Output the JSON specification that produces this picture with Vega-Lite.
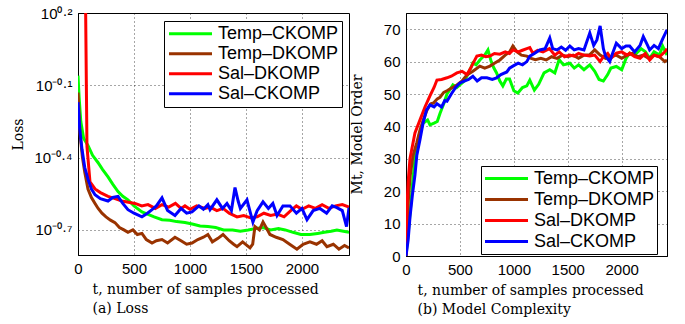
{
"$schema": "https://vega.github.io/schema/vega-lite/v6.json",
"autosize": {"type": "pad"},
"padding": {"left": 10, "top": 5, "right": 5, "bottom": 5},
"bounds": "flush",
"spacing": 57,
"datasets": {
"loss": [
{"t":0,"s":"Temp–CKOMP","v":0.871},{"t":10,"s":"Temp–CKOMP","v":0.708},{"t":25,"s":"Temp–CKOMP","v":0.562},{"t":50,"s":"Temp–CKOMP","v":0.479},{"t":89,"s":"Temp–CKOMP","v":0.447},{"t":130,"s":"Temp–CKOMP","v":0.407},{"t":178,"s":"Temp–CKOMP","v":0.380},{"t":220,"s":"Temp–CKOMP","v":0.355},{"t":268,"s":"Temp–CKOMP","v":0.331},{"t":310,"s":"Temp–CKOMP","v":0.309},{"t":357,"s":"Temp–CKOMP","v":0.288},{"t":400,"s":"Temp–CKOMP","v":0.275},{"t":446,"s":"Temp–CKOMP","v":0.266},{"t":500,"s":"Temp–CKOMP","v":0.251},{"t":571,"s":"Temp–CKOMP","v":0.237},{"t":620,"s":"Temp–CKOMP","v":0.232},{"t":680,"s":"Temp–CKOMP","v":0.226},{"t":750,"s":"Temp–CKOMP","v":0.220},{"t":820,"s":"Temp–CKOMP","v":0.219},{"t":880,"s":"Temp–CKOMP","v":0.216},{"t":955,"s":"Temp–CKOMP","v":0.214},{"t":1020,"s":"Temp–CKOMP","v":0.211},{"t":1090,"s":"Temp–CKOMP","v":0.207},{"t":1160,"s":"Temp–CKOMP","v":0.206},{"t":1230,"s":"Temp–CKOMP","v":0.204},{"t":1300,"s":"Temp–CKOMP","v":0.1995},{"t":1380,"s":"Temp–CKOMP","v":0.1995},{"t":1450,"s":"Temp–CKOMP","v":0.197},{"t":1520,"s":"Temp–CKOMP","v":0.1995},{"t":1580,"s":"Temp–CKOMP","v":0.202},{"t":1652,"s":"Temp–CKOMP","v":0.204},{"t":1720,"s":"Temp–CKOMP","v":0.1995},{"t":1790,"s":"Temp–CKOMP","v":0.202},{"t":1850,"s":"Temp–CKOMP","v":0.1995},{"t":1920,"s":"Temp–CKOMP","v":0.195},{"t":1990,"s":"Temp–CKOMP","v":0.191},{"t":2071,"s":"Temp–CKOMP","v":0.191},{"t":2140,"s":"Temp–CKOMP","v":0.193},{"t":2200,"s":"Temp–CKOMP","v":0.195},{"t":2260,"s":"Temp–CKOMP","v":0.197},{"t":2312,"s":"Temp–CKOMP","v":0.1995},{"t":2370,"s":"Temp–CKOMP","v":0.197},{"t":2420,"s":"Temp–CKOMP","v":0.195},
{"t":0,"s":"Temp–DKOMP","v":0.741},{"t":10,"s":"Temp–DKOMP","v":0.603},{"t":18,"s":"Temp–DKOMP","v":0.501},{"t":40,"s":"Temp–DKOMP","v":0.398},{"t":60,"s":"Temp–DKOMP","v":0.347},{"t":89,"s":"Temp–DKOMP","v":0.295},{"t":120,"s":"Temp–DKOMP","v":0.272},{"t":152,"s":"Temp–DKOMP","v":0.257},{"t":180,"s":"Temp–DKOMP","v":0.245},{"t":214,"s":"Temp–DKOMP","v":0.234},{"t":250,"s":"Temp–DKOMP","v":0.226},{"t":290,"s":"Temp–DKOMP","v":0.219},{"t":330,"s":"Temp–DKOMP","v":0.214},{"t":370,"s":"Temp–DKOMP","v":0.204},{"t":410,"s":"Temp–DKOMP","v":0.1995},{"t":446,"s":"Temp–DKOMP","v":0.195},{"t":490,"s":"Temp–DKOMP","v":0.1995},{"t":530,"s":"Temp–DKOMP","v":0.191},{"t":571,"s":"Temp–DKOMP","v":0.193},{"t":610,"s":"Temp–DKOMP","v":0.182},{"t":661,"s":"Temp–DKOMP","v":0.176},{"t":700,"s":"Temp–DKOMP","v":0.180},{"t":750,"s":"Temp–DKOMP","v":0.182},{"t":800,"s":"Temp–DKOMP","v":0.176},{"t":866,"s":"Temp–DKOMP","v":0.186},{"t":920,"s":"Temp–DKOMP","v":0.180},{"t":970,"s":"Temp–DKOMP","v":0.174},{"t":1018,"s":"Temp–DKOMP","v":0.176},{"t":1070,"s":"Temp–DKOMP","v":0.182},{"t":1120,"s":"Temp–DKOMP","v":0.186},{"t":1160,"s":"Temp–DKOMP","v":0.191},{"t":1200,"s":"Temp–DKOMP","v":0.178},{"t":1250,"s":"Temp–DKOMP","v":0.184},{"t":1295,"s":"Temp–DKOMP","v":0.191},{"t":1350,"s":"Temp–DKOMP","v":0.180},{"t":1390,"s":"Temp–DKOMP","v":0.174},{"t":1420,"s":"Temp–DKOMP","v":0.170},{"t":1470,"s":"Temp–DKOMP","v":0.178},{"t":1536,"s":"Temp–DKOMP","v":0.168},{"t":1560,"s":"Temp–DKOMP","v":0.174},{"t":1580,"s":"Temp–DKOMP","v":0.206},{"t":1620,"s":"Temp–DKOMP","v":0.1995},{"t":1652,"s":"Temp–DKOMP","v":0.215},{"t":1680,"s":"Temp–DKOMP","v":0.204},{"t":1714,"s":"Temp–DKOMP","v":0.191},{"t":1770,"s":"Temp–DKOMP","v":0.186},{"t":1830,"s":"Temp–DKOMP","v":0.182},{"t":1890,"s":"Temp–DKOMP","v":0.174},{"t":1955,"s":"Temp–DKOMP","v":0.166},{"t":2010,"s":"Temp–DKOMP","v":0.174},{"t":2071,"s":"Temp–DKOMP","v":0.178},{"t":2130,"s":"Temp–DKOMP","v":0.174},{"t":2180,"s":"Temp–DKOMP","v":0.180},{"t":2223,"s":"Temp–DKOMP","v":0.170},{"t":2280,"s":"Temp–DKOMP","v":0.174},{"t":2330,"s":"Temp–DKOMP","v":0.166},{"t":2380,"s":"Temp–DKOMP","v":0.172},{"t":2420,"s":"Temp–DKOMP","v":0.168},
{"t":60,"s":"Sal–DKOMP","v":3.98},{"t":80,"s":"Sal–DKOMP","v":0.443},{"t":107,"s":"Sal–DKOMP","v":0.316},{"t":152,"s":"Sal–DKOMP","v":0.295},{"t":200,"s":"Sal–DKOMP","v":0.285},{"t":268,"s":"Sal–DKOMP","v":0.275},{"t":330,"s":"Sal–DKOMP","v":0.269},{"t":393,"s":"Sal–DKOMP","v":0.263},{"t":450,"s":"Sal–DKOMP","v":0.260},{"t":509,"s":"Sal–DKOMP","v":0.257},{"t":570,"s":"Sal–DKOMP","v":0.251},{"t":625,"s":"Sal–DKOMP","v":0.254},{"t":690,"s":"Sal–DKOMP","v":0.245},{"t":750,"s":"Sal–DKOMP","v":0.254},{"t":810,"s":"Sal–DKOMP","v":0.248},{"t":870,"s":"Sal–DKOMP","v":0.257},{"t":920,"s":"Sal–DKOMP","v":0.245},{"t":955,"s":"Sal–DKOMP","v":0.251},{"t":1000,"s":"Sal–DKOMP","v":0.243},{"t":1060,"s":"Sal–DKOMP","v":0.251},{"t":1134,"s":"Sal–DKOMP","v":0.245},{"t":1180,"s":"Sal–DKOMP","v":0.248},{"t":1240,"s":"Sal–DKOMP","v":0.240},{"t":1295,"s":"Sal–DKOMP","v":0.245},{"t":1350,"s":"Sal–DKOMP","v":0.234},{"t":1420,"s":"Sal–DKOMP","v":0.226},{"t":1480,"s":"Sal–DKOMP","v":0.229},{"t":1540,"s":"Sal–DKOMP","v":0.224},{"t":1600,"s":"Sal–DKOMP","v":0.226},{"t":1660,"s":"Sal–DKOMP","v":0.234},{"t":1720,"s":"Sal–DKOMP","v":0.229},{"t":1780,"s":"Sal–DKOMP","v":0.232},{"t":1840,"s":"Sal–DKOMP","v":0.226},{"t":1900,"s":"Sal–DKOMP","v":0.240},{"t":1950,"s":"Sal–DKOMP","v":0.251},{"t":2000,"s":"Sal–DKOMP","v":0.243},{"t":2060,"s":"Sal–DKOMP","v":0.251},{"t":2120,"s":"Sal–DKOMP","v":0.245},{"t":2180,"s":"Sal–DKOMP","v":0.254},{"t":2240,"s":"Sal–DKOMP","v":0.245},{"t":2300,"s":"Sal–DKOMP","v":0.251},{"t":2360,"s":"Sal–DKOMP","v":0.254},{"t":2420,"s":"Sal–DKOMP","v":0.248},
{"t":0,"s":"Sal–CKOMP","v":0.676},{"t":15,"s":"Sal–CKOMP","v":0.525},{"t":36,"s":"Sal–CKOMP","v":0.430},{"t":60,"s":"Sal–CKOMP","v":0.363},{"t":89,"s":"Sal–CKOMP","v":0.324},{"t":120,"s":"Sal–CKOMP","v":0.295},{"t":152,"s":"Sal–CKOMP","v":0.279},{"t":200,"s":"Sal–CKOMP","v":0.269},{"t":268,"s":"Sal–CKOMP","v":0.263},{"t":310,"s":"Sal–CKOMP","v":0.272},{"t":357,"s":"Sal–CKOMP","v":0.275},{"t":400,"s":"Sal–CKOMP","v":0.257},{"t":446,"s":"Sal–CKOMP","v":0.242},{"t":500,"s":"Sal–CKOMP","v":0.234},{"t":571,"s":"Sal–CKOMP","v":0.226},{"t":620,"s":"Sal–CKOMP","v":0.234},{"t":661,"s":"Sal–CKOMP","v":0.242},{"t":700,"s":"Sal–CKOMP","v":0.251},{"t":750,"s":"Sal–CKOMP","v":0.271},{"t":800,"s":"Sal–CKOMP","v":0.240},{"t":866,"s":"Sal–CKOMP","v":0.229},{"t":920,"s":"Sal–CKOMP","v":0.245},{"t":970,"s":"Sal–CKOMP","v":0.234},{"t":1018,"s":"Sal–CKOMP","v":0.237},{"t":1080,"s":"Sal–CKOMP","v":0.251},{"t":1120,"s":"Sal–CKOMP","v":0.243},{"t":1160,"s":"Sal–CKOMP","v":0.254},{"t":1179,"s":"Sal–CKOMP","v":0.242},{"t":1240,"s":"Sal–CKOMP","v":0.266},{"t":1290,"s":"Sal–CKOMP","v":0.245},{"t":1330,"s":"Sal–CKOMP","v":0.257},{"t":1370,"s":"Sal–CKOMP","v":0.240},{"t":1402,"s":"Sal–CKOMP","v":0.299},{"t":1430,"s":"Sal–CKOMP","v":0.263},{"t":1450,"s":"Sal–CKOMP","v":0.245},{"t":1509,"s":"Sal–CKOMP","v":0.266},{"t":1540,"s":"Sal–CKOMP","v":0.234},{"t":1562,"s":"Sal–CKOMP","v":0.215},{"t":1600,"s":"Sal–CKOMP","v":0.240},{"t":1652,"s":"Sal–CKOMP","v":0.261},{"t":1700,"s":"Sal–CKOMP","v":0.245},{"t":1740,"s":"Sal–CKOMP","v":0.257},{"t":1777,"s":"Sal–CKOMP","v":0.229},{"t":1830,"s":"Sal–CKOMP","v":0.251},{"t":1893,"s":"Sal–CKOMP","v":0.251},{"t":1950,"s":"Sal–CKOMP","v":0.234},{"t":2000,"s":"Sal–CKOMP","v":0.245},{"t":2045,"s":"Sal–CKOMP","v":0.220},{"t":2100,"s":"Sal–CKOMP","v":0.240},{"t":2160,"s":"Sal–CKOMP","v":0.245},{"t":2220,"s":"Sal–CKOMP","v":0.234},{"t":2270,"s":"Sal–CKOMP","v":0.251},{"t":2312,"s":"Sal–CKOMP","v":0.247},{"t":2360,"s":"Sal–CKOMP","v":0.240},{"t":2398,"s":"Sal–CKOMP","v":0.206},{"t":2420,"s":"Sal–CKOMP","v":0.247}
],
"order": [
{"t":0,"s":"Temp–CKOMP","m":0},{"t":20,"s":"Temp–CKOMP","m":7},{"t":40,"s":"Temp–CKOMP","m":14},{"t":60,"s":"Temp–CKOMP","m":22},{"t":83,"s":"Temp–CKOMP","m":30},{"t":100,"s":"Temp–CKOMP","m":33},{"t":120,"s":"Temp–CKOMP","m":37},{"t":158,"s":"Temp–CKOMP","m":41},{"t":200,"s":"Temp–CKOMP","m":42},{"t":222,"s":"Temp–CKOMP","m":40.5},{"t":260,"s":"Temp–CKOMP","m":41},{"t":290,"s":"Temp–CKOMP","m":41.5},{"t":315,"s":"Temp–CKOMP","m":44},{"t":350,"s":"Temp–CKOMP","m":47},{"t":380,"s":"Temp–CKOMP","m":50},{"t":410,"s":"Temp–CKOMP","m":51.5},{"t":435,"s":"Temp–CKOMP","m":52.8},{"t":470,"s":"Temp–CKOMP","m":52},{"t":500,"s":"Temp–CKOMP","m":52.8},{"t":540,"s":"Temp–CKOMP","m":54},{"t":565,"s":"Temp–CKOMP","m":55.5},{"t":600,"s":"Temp–CKOMP","m":58},{"t":620,"s":"Temp–CKOMP","m":59.6},{"t":650,"s":"Temp–CKOMP","m":59},{"t":685,"s":"Temp–CKOMP","m":60.5},{"t":730,"s":"Temp–CKOMP","m":62},{"t":760,"s":"Temp–CKOMP","m":63.6},{"t":790,"s":"Temp–CKOMP","m":60},{"t":815,"s":"Temp–CKOMP","m":58},{"t":840,"s":"Temp–CKOMP","m":56.5},{"t":870,"s":"Temp–CKOMP","m":54},{"t":898,"s":"Temp–CKOMP","m":52.5},{"t":930,"s":"Temp–CKOMP","m":54.6},{"t":960,"s":"Temp–CKOMP","m":54.6},{"t":1000,"s":"Temp–CKOMP","m":51},{"t":1037,"s":"Temp–CKOMP","m":50.3},{"t":1080,"s":"Temp–CKOMP","m":52},{"t":1120,"s":"Temp–CKOMP","m":52.5},{"t":1148,"s":"Temp–CKOMP","m":54.3},{"t":1190,"s":"Temp–CKOMP","m":51.2},{"t":1230,"s":"Temp–CKOMP","m":53},{"t":1280,"s":"Temp–CKOMP","m":56.5},{"t":1333,"s":"Temp–CKOMP","m":57.5},{"t":1380,"s":"Temp–CKOMP","m":56.5},{"t":1420,"s":"Temp–CKOMP","m":60.6},{"t":1460,"s":"Temp–CKOMP","m":59},{"t":1519,"s":"Temp–CKOMP","m":59.5},{"t":1560,"s":"Temp–CKOMP","m":58},{"t":1600,"s":"Temp–CKOMP","m":59},{"t":1650,"s":"Temp–CKOMP","m":57.5},{"t":1704,"s":"Temp–CKOMP","m":59},{"t":1750,"s":"Temp–CKOMP","m":57},{"t":1790,"s":"Temp–CKOMP","m":54.5},{"t":1830,"s":"Temp–CKOMP","m":54},{"t":1870,"s":"Temp–CKOMP","m":56},{"t":1900,"s":"Temp–CKOMP","m":58},{"t":1950,"s":"Temp–CKOMP","m":58.5},{"t":2000,"s":"Temp–CKOMP","m":57.5},{"t":2040,"s":"Temp–CKOMP","m":61},{"t":2074,"s":"Temp–CKOMP","m":62.6},{"t":2120,"s":"Temp–CKOMP","m":62},{"t":2180,"s":"Temp–CKOMP","m":64},{"t":2220,"s":"Temp–CKOMP","m":63},{"t":2259,"s":"Temp–CKOMP","m":61},{"t":2300,"s":"Temp–CKOMP","m":63},{"t":2350,"s":"Temp–CKOMP","m":62},{"t":2380,"s":"Temp–CKOMP","m":64.8},{"t":2420,"s":"Temp–CKOMP","m":62},
{"t":0,"s":"Temp–DKOMP","m":0},{"t":10,"s":"Temp–DKOMP","m":10},{"t":25,"s":"Temp–DKOMP","m":19},{"t":40,"s":"Temp–DKOMP","m":25},{"t":65,"s":"Temp–DKOMP","m":31},{"t":100,"s":"Temp–DKOMP","m":35},{"t":130,"s":"Temp–DKOMP","m":38.9},{"t":160,"s":"Temp–DKOMP","m":42},{"t":194,"s":"Temp–DKOMP","m":45},{"t":230,"s":"Temp–DKOMP","m":47},{"t":255,"s":"Temp–DKOMP","m":47.2},{"t":290,"s":"Temp–DKOMP","m":48.5},{"t":315,"s":"Temp–DKOMP","m":49},{"t":350,"s":"Temp–DKOMP","m":50.5},{"t":380,"s":"Temp–DKOMP","m":51},{"t":430,"s":"Temp–DKOMP","m":52},{"t":472,"s":"Temp–DKOMP","m":52.8},{"t":520,"s":"Temp–DKOMP","m":54},{"t":565,"s":"Temp–DKOMP","m":55.9},{"t":620,"s":"Temp–DKOMP","m":57},{"t":685,"s":"Temp–DKOMP","m":58.6},{"t":730,"s":"Temp–DKOMP","m":58},{"t":778,"s":"Temp–DKOMP","m":58.6},{"t":820,"s":"Temp–DKOMP","m":59.5},{"t":870,"s":"Temp–DKOMP","m":60.5},{"t":920,"s":"Temp–DKOMP","m":62},{"t":960,"s":"Temp–DKOMP","m":63},{"t":991,"s":"Temp–DKOMP","m":64.8},{"t":1030,"s":"Temp–DKOMP","m":63},{"t":1070,"s":"Temp–DKOMP","m":62},{"t":1120,"s":"Temp–DKOMP","m":61.7},{"t":1160,"s":"Temp–DKOMP","m":61},{"t":1200,"s":"Temp–DKOMP","m":60.6},{"t":1250,"s":"Temp–DKOMP","m":61},{"t":1300,"s":"Temp–DKOMP","m":60.5},{"t":1350,"s":"Temp–DKOMP","m":61.5},{"t":1400,"s":"Temp–DKOMP","m":61},{"t":1450,"s":"Temp–DKOMP","m":62},{"t":1500,"s":"Temp–DKOMP","m":61.5},{"t":1550,"s":"Temp–DKOMP","m":62},{"t":1600,"s":"Temp–DKOMP","m":61},{"t":1650,"s":"Temp–DKOMP","m":62},{"t":1700,"s":"Temp–DKOMP","m":62},{"t":1750,"s":"Temp–DKOMP","m":63.6},{"t":1800,"s":"Temp–DKOMP","m":62},{"t":1850,"s":"Temp–DKOMP","m":61},{"t":1900,"s":"Temp–DKOMP","m":61.5},{"t":1950,"s":"Temp–DKOMP","m":62},{"t":2000,"s":"Temp–DKOMP","m":61},{"t":2050,"s":"Temp–DKOMP","m":62},{"t":2100,"s":"Temp–DKOMP","m":62.5},{"t":2150,"s":"Temp–DKOMP","m":61.5},{"t":2200,"s":"Temp–DKOMP","m":62},{"t":2250,"s":"Temp–DKOMP","m":61},{"t":2300,"s":"Temp–DKOMP","m":62},{"t":2350,"s":"Temp–DKOMP","m":61.5},{"t":2400,"s":"Temp–DKOMP","m":60},{"t":2420,"s":"Temp–DKOMP","m":60.5},
{"t":0,"s":"Sal–DKOMP","m":0},{"t":5,"s":"Sal–DKOMP","m":8},{"t":10,"s":"Sal–DKOMP","m":16},{"t":20,"s":"Sal–DKOMP","m":23},{"t":37,"s":"Sal–DKOMP","m":30},{"t":60,"s":"Sal–DKOMP","m":34},{"t":83,"s":"Sal–DKOMP","m":38},{"t":130,"s":"Sal–DKOMP","m":42},{"t":176,"s":"Sal–DKOMP","m":46},{"t":222,"s":"Sal–DKOMP","m":49.4},{"t":260,"s":"Sal–DKOMP","m":52},{"t":287,"s":"Sal–DKOMP","m":54.3},{"t":330,"s":"Sal–DKOMP","m":54.5},{"t":380,"s":"Sal–DKOMP","m":55},{"t":420,"s":"Sal–DKOMP","m":55.5},{"t":472,"s":"Sal–DKOMP","m":56.5},{"t":520,"s":"Sal–DKOMP","m":57},{"t":565,"s":"Sal–DKOMP","m":56},{"t":600,"s":"Sal–DKOMP","m":58},{"t":630,"s":"Sal–DKOMP","m":60},{"t":657,"s":"Sal–DKOMP","m":61.7},{"t":700,"s":"Sal–DKOMP","m":62},{"t":740,"s":"Sal–DKOMP","m":61.5},{"t":778,"s":"Sal–DKOMP","m":61.7},{"t":820,"s":"Sal–DKOMP","m":62.5},{"t":870,"s":"Sal–DKOMP","m":62.3},{"t":920,"s":"Sal–DKOMP","m":63},{"t":960,"s":"Sal–DKOMP","m":62.5},{"t":991,"s":"Sal–DKOMP","m":63.6},{"t":1040,"s":"Sal–DKOMP","m":63},{"t":1080,"s":"Sal–DKOMP","m":63.5},{"t":1120,"s":"Sal–DKOMP","m":64},{"t":1148,"s":"Sal–DKOMP","m":64.3},{"t":1176,"s":"Sal–DKOMP","m":62.6},{"t":1220,"s":"Sal–DKOMP","m":63.5},{"t":1270,"s":"Sal–DKOMP","m":63},{"t":1330,"s":"Sal–DKOMP","m":64},{"t":1380,"s":"Sal–DKOMP","m":62},{"t":1420,"s":"Sal–DKOMP","m":63},{"t":1470,"s":"Sal–DKOMP","m":61.5},{"t":1519,"s":"Sal–DKOMP","m":62},{"t":1560,"s":"Sal–DKOMP","m":61.7},{"t":1600,"s":"Sal–DKOMP","m":62.5},{"t":1650,"s":"Sal–DKOMP","m":62},{"t":1704,"s":"Sal–DKOMP","m":61.7},{"t":1750,"s":"Sal–DKOMP","m":62},{"t":1800,"s":"Sal–DKOMP","m":60},{"t":1830,"s":"Sal–DKOMP","m":61.5},{"t":1870,"s":"Sal–DKOMP","m":62.5},{"t":1900,"s":"Sal–DKOMP","m":61},{"t":1950,"s":"Sal–DKOMP","m":62.6},{"t":2000,"s":"Sal–DKOMP","m":63},{"t":2050,"s":"Sal–DKOMP","m":62},{"t":2074,"s":"Sal–DKOMP","m":62.6},{"t":2120,"s":"Sal–DKOMP","m":61.5},{"t":2170,"s":"Sal–DKOMP","m":61},{"t":2220,"s":"Sal–DKOMP","m":62.5},{"t":2259,"s":"Sal–DKOMP","m":60.5},{"t":2300,"s":"Sal–DKOMP","m":62},{"t":2350,"s":"Sal–DKOMP","m":61.5},{"t":2400,"s":"Sal–DKOMP","m":63},{"t":2420,"s":"Sal–DKOMP","m":64},
{"t":0,"s":"Sal–CKOMP","m":0},{"t":20,"s":"Sal–CKOMP","m":5},{"t":37,"s":"Sal–CKOMP","m":12},{"t":60,"s":"Sal–CKOMP","m":19},{"t":83,"s":"Sal–CKOMP","m":25},{"t":100,"s":"Sal–CKOMP","m":31},{"t":130,"s":"Sal–CKOMP","m":36},{"t":158,"s":"Sal–CKOMP","m":41},{"t":190,"s":"Sal–CKOMP","m":45},{"t":222,"s":"Sal–CKOMP","m":46.6},{"t":260,"s":"Sal–CKOMP","m":46},{"t":287,"s":"Sal–CKOMP","m":47},{"t":330,"s":"Sal–CKOMP","m":46},{"t":360,"s":"Sal–CKOMP","m":48},{"t":380,"s":"Sal–CKOMP","m":47.8},{"t":420,"s":"Sal–CKOMP","m":50},{"t":460,"s":"Sal–CKOMP","m":52},{"t":500,"s":"Sal–CKOMP","m":53.4},{"t":540,"s":"Sal–CKOMP","m":54},{"t":580,"s":"Sal–CKOMP","m":54.5},{"t":620,"s":"Sal–CKOMP","m":55.5},{"t":660,"s":"Sal–CKOMP","m":54},{"t":700,"s":"Sal–CKOMP","m":55},{"t":750,"s":"Sal–CKOMP","m":55},{"t":800,"s":"Sal–CKOMP","m":54.5},{"t":840,"s":"Sal–CKOMP","m":55},{"t":880,"s":"Sal–CKOMP","m":56},{"t":935,"s":"Sal–CKOMP","m":56.8},{"t":960,"s":"Sal–CKOMP","m":58},{"t":991,"s":"Sal–CKOMP","m":58.6},{"t":1040,"s":"Sal–CKOMP","m":59.5},{"t":1080,"s":"Sal–CKOMP","m":59},{"t":1120,"s":"Sal–CKOMP","m":60},{"t":1148,"s":"Sal–CKOMP","m":61.7},{"t":1190,"s":"Sal–CKOMP","m":62.5},{"t":1240,"s":"Sal–CKOMP","m":63.6},{"t":1290,"s":"Sal–CKOMP","m":64},{"t":1333,"s":"Sal–CKOMP","m":67.3},{"t":1360,"s":"Sal–CKOMP","m":64},{"t":1400,"s":"Sal–CKOMP","m":63.6},{"t":1440,"s":"Sal–CKOMP","m":64.5},{"t":1480,"s":"Sal–CKOMP","m":63.5},{"t":1519,"s":"Sal–CKOMP","m":64.8},{"t":1560,"s":"Sal–CKOMP","m":63.6},{"t":1600,"s":"Sal–CKOMP","m":64},{"t":1650,"s":"Sal–CKOMP","m":63.6},{"t":1704,"s":"Sal–CKOMP","m":68.8},{"t":1740,"s":"Sal–CKOMP","m":65},{"t":1770,"s":"Sal–CKOMP","m":66.7},{"t":1800,"s":"Sal–CKOMP","m":71},{"t":1830,"s":"Sal–CKOMP","m":64},{"t":1850,"s":"Sal–CKOMP","m":61.7},{"t":1889,"s":"Sal–CKOMP","m":60},{"t":1920,"s":"Sal–CKOMP","m":63},{"t":1950,"s":"Sal–CKOMP","m":65.7},{"t":2000,"s":"Sal–CKOMP","m":64},{"t":2040,"s":"Sal–CKOMP","m":64.8},{"t":2074,"s":"Sal–CKOMP","m":64.8},{"t":2120,"s":"Sal–CKOMP","m":63},{"t":2170,"s":"Sal–CKOMP","m":65},{"t":2200,"s":"Sal–CKOMP","m":67.7},{"t":2240,"s":"Sal–CKOMP","m":65},{"t":2259,"s":"Sal–CKOMP","m":63.6},{"t":2300,"s":"Sal–CKOMP","m":65},{"t":2340,"s":"Sal–CKOMP","m":64},{"t":2380,"s":"Sal–CKOMP","m":67},{"t":2420,"s":"Sal–CKOMP","m":69.8}
]
},
"hconcat": [
{
"width": 271, "height": 242,
"data": {"name": "loss"},
"mark": {"type": "line", "strokeWidth": 3, "clip": true},
"encoding": {
"x": {"field": "t", "type": "quantitative", "scale": {"domain": [0, 2420], "nice": false, "zero": false},
"axis": {"values": [0, 500, 1000, 1500, 2000], "format": "d", "title": ["t, number of samples processed", "(a) Loss"], "titleX": 14, "titleY": 38, "titleAlign": "left", "titleBaseline": "alphabetic", "titleLineHeight": 19}},
"y": {"field": "v", "type": "quantitative", "scale": {"type": "log", "domain": [0.157, 1.585], "nice": false},
"axis": {"values": [0.1995, 0.3981, 0.7943, 1.5849], "labelExpr": "datum.value > 1 ? '10⁰·²' : datum.value > 0.7 ? '10⁻⁰·¹' : datum.value > 0.35 ? '10⁻⁰·⁴' : '10⁻⁰·⁷'", "title": "Loss", "titleX": -60, "titleY": 121, "titleBaseline": "middle", "titleAlign": "center"}},
"color": {"field": "s", "type": "nominal", "sort": null,
"scale": {"domain": ["Temp–CKOMP", "Temp–DKOMP", "Sal–DKOMP", "Sal–CKOMP"], "range": ["#00ff00", "#993300", "#ff0000", "#0000ff"]},
"legend": {"orient": "none", "legendX": 86, "legendY": 8, "title": null, "symbolType": "stroke", "symbolSize": 1850, "symbolStrokeWidth": 3, "labelFontSize": 18, "labelFont": "Liberation Sans", "labelColor": "#000", "strokeColor": "#000", "fillColor": "#fff", "padding": 3, "rowPadding": 0, "clipHeight": 19.5, "labelOffset": 4}}
}
},
{
"width": 261, "height": 243,
"data": {"name": "order"},
"mark": {"type": "line", "strokeWidth": 3, "clip": true},
"encoding": {
"x": {"field": "t", "type": "quantitative", "scale": {"domain": [0, 2420], "nice": false, "zero": false},
"axis": {"values": [0, 500, 1000, 1500, 2000], "format": "d", "title": ["t, number of samples processed", "(b) Model Complexity"], "titleX": 11, "titleY": 38, "titleAlign": "left", "titleBaseline": "alphabetic", "titleLineHeight": 19}},
"y": {"field": "m", "type": "quantitative", "scale": {"domain": [0, 75], "nice": false},
"axis": {"values": [0, 10, 20, 30, 40, 50, 60, 70], "title": "Mt, Model Order", "titleX": -49, "titleY": 121, "titleBaseline": "middle", "titleAlign": "center"}},
"color": {"field": "s", "type": "nominal", "sort": null,
"scale": {"domain": ["Temp–CKOMP", "Temp–DKOMP", "Sal–DKOMP", "Sal–CKOMP"], "range": ["#00ff00", "#993300", "#ff0000", "#0000ff"]},
"legend": {"orient": "none", "legendX": 75, "legendY": 153, "title": null, "symbolType": "stroke", "symbolSize": 1850, "symbolStrokeWidth": 3, "labelFontSize": 18, "labelFont": "Liberation Sans", "labelColor": "#000", "strokeColor": "#000", "fillColor": "#fff", "padding": 2, "rowPadding": 0, "clipHeight": 21, "labelOffset": 4}}
}
}
],
"resolve": {"scale": {"color": "independent"}, "legend": {"color": "independent"}},
"config": {
"view": {"stroke": "#000", "strokeWidth": 1},
"axis": {"grid": true, "gridColor": "#000", "gridDash": [1, 3], "gridOpacity": 0.7, "domainColor": "#000", "ticks": false, "labelPadding": 6, "labelColor": "#000", "labelFont": "Liberation Sans", "labelFontSize": 15, "labelFlush": false, "titleColor": "#000", "titleFont": "DejaVu Serif", "titleFontSize": 14, "titleFontWeight": "normal"}
}
}
